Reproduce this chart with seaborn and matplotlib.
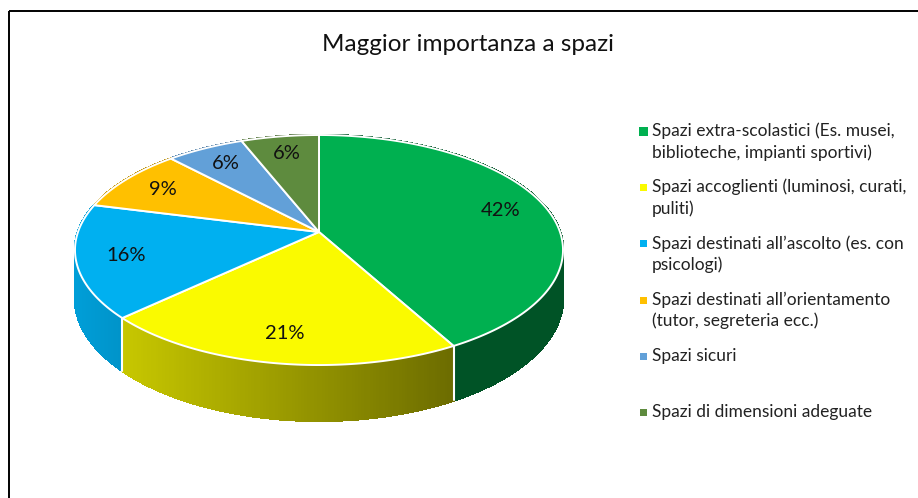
import numpy as np
import matplotlib.pyplot as plt
import matplotlib.colors as mcolors
from matplotlib.collections import PolyCollection
from matplotlib.patches import Rectangle
import seaborn as sns

title = "Maggior importanza a spazi"
labels = [
    "Spazi extra-scolastici (Es. musei,\nbiblioteche, impianti sportivi)",
    "Spazi accoglienti (luminosi, curati,\npuliti)",
    "Spazi destinati all\u2019ascolto (es. con\npsicologi)",
    "Spazi destinati all\u2019orientamento\n(tutor, segreteria ecc.)",
    "Spazi sicuri",
    "Spazi di dimensioni adeguate",
]
values = [42, 21, 16, 9, 6, 6]
colors = ["#00B050", "#FAFA00", "#00B0F0", "#FFC000", "#62A0D8", "#5E8B3E"]

# side wall shading (left -> right factor of the base colour)
side_shade = [(0.47, 0.47), (0.80, 0.43), (0.90, 0.84), (0.8, 0.7), (0.8, 0.7), (0.8, 0.7)]
marker_px = [9, 7, 7, 7, 7, 7]

sns.set_theme(style="white")
plt.rcParams["font.family"] = ["Lato", "DejaVu Sans"]

# pie geometry (pixels), simple perspective tilt
cx, cy = 319, 232
rx, ry = 241, 112.2
k = 0.1566
depth = 47


def rim(phi, r=1.0):
    u = np.sin(phi) * r
    w = -np.cos(phi) * r
    s = 1 / (1 - k * w)
    return cx + rx * u * s, cy + ry * w * s, s, w


fig = plt.figure(figsize=(9.18, 4.98), dpi=100)
ax = fig.add_axes([0, 0, 1, 1])
ax.set_xlim(0, 918)
ax.set_ylim(498, 0)
ax.axis("off")

# chart frame (only left and top edges are in view)
ax.add_patch(Rectangle((8.5, 10.5), 1000, 600, fill=False, edgecolor="black", lw=1.4))

total = sum(values)
edges = np.concatenate([[0], np.cumsum(values)]) / total * 2 * np.pi

# side walls, drawn back to front
strips = []
for i in range(len(values)):
    phis = np.linspace(edges[i], edges[i + 1], max(values[i] * 6, 6))
    x, y, s, w = rim(phis)
    base = np.array(mcolors.to_rgb(colors[i]))
    x0, x1 = x.min(), x.max()
    for j in range(len(phis) - 1):
        quad = [(x[j], y[j]), (x[j + 1], y[j + 1]),
                (x[j + 1], y[j + 1] + depth * s[j + 1]), (x[j], y[j] + depth * s[j])]
        t = ((x[j] + x[j + 1]) / 2 - x0) / max(x1 - x0, 1)
        f = side_shade[i][0] + (side_shade[i][1] - side_shade[i][0]) * t
        strips.append(((w[j] + w[j + 1]) / 2, quad, tuple(base * f)))

strips.sort(key=lambda a: a[0])
pc = PolyCollection([q for _, q, _ in strips], facecolors=[c for _, _, c in strips],
                    edgecolors=[c for _, _, c in strips], linewidths=1.2, antialiaseds=False)
ax.add_collection(pc)

# white seams on visible wall boundaries
for e in edges[1:-1]:
    x, y, s, w = rim(np.array([e]))
    if w[0] > k:
        ax.plot([x[0], x[0]], [y[0], y[0] + depth * s[0]], color="white", lw=1.5)

# top face
for i in range(len(values)):
    phis = np.linspace(edges[i], edges[i + 1], max(values[i] * 6, 6))
    x, y, _, _ = rim(phis)
    ax.fill(np.concatenate([[cx], x]), np.concatenate([[cy], y]),
            facecolor=colors[i], edgecolor="white", lw=1.4, joinstyle="round")

# percentage labels
for i, v in enumerate(values):
    mid = (edges[i] + edges[i + 1]) / 2
    x, y, _, _ = rim(np.array([mid]), 0.8)
    ax.text(x[0], y[0], f"{v}%", ha="center", va="center", fontsize=14.5, color="#111111")

ax.text(468, 44, title, ha="center", va="center", fontsize=17.5, color="#111111")

# legend
leg_x, leg_y, leg_step, line_step = 652, 131, 56.2, 21.5
for i, lab in enumerate(labels):
    y = leg_y + i * leg_step
    ax.scatter([643], [y], marker="s", s=(marker_px[i] * 0.72) ** 2, color=colors[i], linewidths=0)
    for li, line in enumerate(lab.split("\n")):
        ax.text(leg_x, y + li * line_step, line, ha="left", va="center", fontsize=12.5, color="#222222")

fig.savefig("out.png", dpi=100)
